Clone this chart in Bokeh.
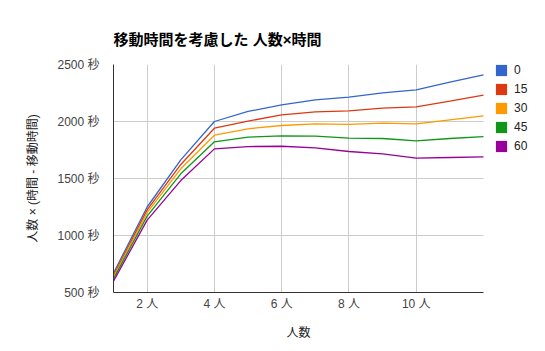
import math
from bokeh.plotting import figure
from bokeh.models import (ColumnDataSource, Legend, LegendItem, FixedTicker, Range1d,
                          BoxAnnotation, Title)
from bokeh.embed import file_html
from bokeh.resources import INLINE

# ---- data ----
people = [1, 2, 3, 4, 5, 6, 7, 8, 9, 10, 11, 12]
series_names = ["0", "15", "30", "45", "60"]
s0 = [670, 1250, 1664, 2000, 2088, 2146, 2190, 2213, 2251, 2278, 2345, 2409]
s15 = [650, 1225, 1623, 1941, 2003, 2059, 2085, 2094, 2117, 2129, 2178, 2231]
s30 = [635, 1200, 1585, 1880, 1936, 1965, 1980, 1974, 1985, 1980, 2015, 2050]
s45 = [620, 1170, 1541, 1822, 1863, 1874, 1871, 1854, 1851, 1830, 1851, 1868]
s60 = [600, 1135, 1482, 1760, 1780, 1783, 1769, 1737, 1716, 1678, 1684, 1690]
series_values = [s0, s15, s30, s45, s60]
colors = ["#3366cc", "#dc3912", "#ff9900", "#109618", "#990099"]

x_ticks = [2, 4, 6, 8, 10]
x_tick_labels = ["2 人", "4 人", "6 人", "8 人", "10 人"]
y_ticks = [500, 1000, 1500, 2000, 2500]
y_tick_labels = ["500 秒", "1000 秒", "1500 秒", "2000 秒", "2500 秒"]

title_text = "移動時間を考慮した 人数×時間"
x_title = "人数"
y_title = "人数 × (時間 - 移動時間)"

FONT = "Liberation Sans, Noto Sans CJK JP"

# plot area spans x = 1..12 over 370 px; the frame continues to the right
# edge to host the legend (extra room is masked white)
X_MIN, X_MAX = people[0], people[-1]
PLOT_W = 370
px_per_unit = PLOT_W / (X_MAX - X_MIN)
FRAME_W = 432
x_end = X_MIN + FRAME_W / px_per_unit

p = figure(width=545, height=351, output_backend="svg", toolbar_location=None,
           x_range=Range1d(X_MIN, x_end), y_range=Range1d(500, 2500),
           min_border_left=113, min_border_right=0, min_border_top=64, min_border_bottom=59)

p.title.text = title_text
p.title.text_font = FONT
p.title.text_font_size = "15px"
p.title.text_font_style = "bold"
p.title.text_color = "#000000"
p.title.align = "left"
p.title.standoff = 34

p.outline_line_color = None
p.background_fill_color = "white"
p.border_fill_color = "white"

for ax in (p.xaxis[0], p.yaxis[0]):
    ax.axis_line_color = "#333333"
    ax.axis_line_width = 1
    ax.major_tick_line_color = None
    ax.minor_tick_line_color = None
    ax.major_label_text_font = FONT
    ax.major_label_text_font_size = "12px"
    ax.major_label_text_color = "#444444"
    ax.axis_label_text_font = FONT
    ax.axis_label_text_font_size = "12px"
    ax.axis_label_text_font_style = "normal"
    ax.axis_label_text_color = "#222222"

p.xaxis.ticker = FixedTicker(ticks=x_ticks)
p.xaxis.major_label_overrides = {t: l for t, l in zip(x_ticks, x_tick_labels)}
p.xaxis.bounds = (X_MIN, X_MAX)
p.yaxis.ticker = FixedTicker(ticks=y_ticks)
p.yaxis.major_label_overrides = {t: l for t, l in zip(y_ticks, y_tick_labels)}
p.yaxis.axis_label = y_title
p.xaxis.major_label_standoff = -2
p.yaxis.major_label_standoff = 8
p.yaxis.axis_label_standoff = 14

# x-axis title centred under the plotted area (not under the legend room)
xt = Title(text=x_title, align="left", offset=PLOT_W / 2 - 12,
           text_font=FONT, text_font_size="12px", text_font_style="normal",
           text_color="#222222", standoff=20)
p.add_layout(xt, "below")

p.xgrid.grid_line_color = "#cccccc"
p.ygrid.grid_line_color = "#cccccc"

mask = BoxAnnotation(left=X_MAX, fill_color="white", fill_alpha=1.0,
                     line_color=None, level="underlay")
p.add_layout(mask)

items = []
for name, vals, c in zip(series_names, series_values, colors):
    src = ColumnDataSource(dict(x=people, y=vals))
    p.line("x", "y", source=src, line_color=c, line_width=1.3)
    sw = p.quad(left=[math.nan], right=[math.nan], top=[math.nan], bottom=[math.nan],
                fill_color=c, line_color=None)
    items.append(LegendItem(label=name, renderers=[sw]))

legend = Legend(items=items, location=(381, 139), orientation="vertical",
                glyph_width=14, glyph_height=14, label_height=14, label_width=14,
                spacing=5, padding=0, margin=0, label_standoff=6,
                border_line_color=None, background_fill_alpha=0,
                label_text_font=FONT, label_text_font_size="12px",
                label_text_color="#222222")
p.add_layout(legend, "center")

open("out.html", "w").write(file_html(p, INLINE))
